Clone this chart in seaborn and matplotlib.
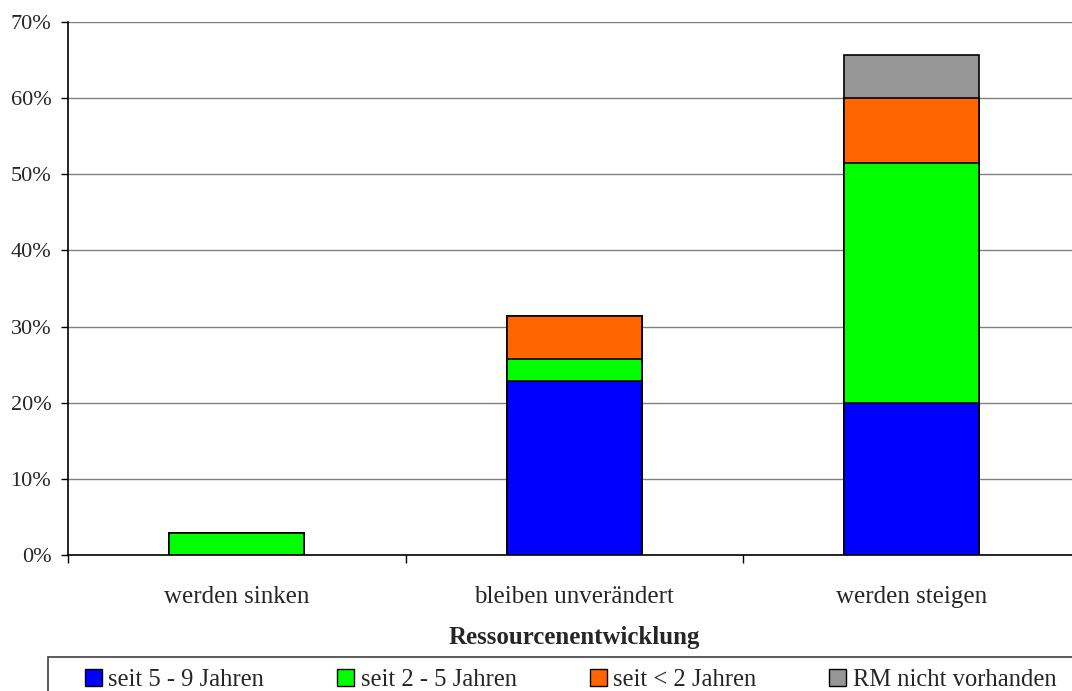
import matplotlib
matplotlib.use("Agg")
import matplotlib.pyplot as plt
import seaborn as sns
import pandas as pd
import numpy as np
from matplotlib.patches import Patch, Rectangle

# Anteile in Prozent je Kategorie der Ressourcenentwicklung
categories = ["werden sinken", "bleiben unverändert", "werden steigen"]
seit_5_9 = [0.0, 22.86, 20.0]
seit_2_5 = [2.86, 2.86, 31.43]
seit_unter_2 = [0.0, 5.71, 8.57]
rm_nicht = [0.0, 0.0, 5.71]

series_names = ["seit 5 - 9 Jahren", "seit 2 - 5 Jahren", "seit < 2 Jahren", "RM nicht vorhanden"]
series_values = [seit_5_9, seit_2_5, seit_unter_2, rm_nicht]
colors = ["#0000FF", "#00FF00", "#FF6600", "#969696"]

sns.set_style("white")
plt.rcParams["font.family"] = ["Liberation Serif", "DejaVu Serif"]

W, H = 1072, 691
fig = plt.figure(figsize=(W / 100, H / 100), dpi=100)
ax = fig.add_axes([68 / W, 1 - 555 / H, (1080.5 - 68) / W, (555 - 22) / H])

# Kumulierte Summen, von der höchsten Stufe abwärts übereinander gezeichnet
cum = np.cumsum(np.array(series_values), axis=0)
for i in range(len(series_names) - 1, -1, -1):
    df = pd.DataFrame({"Kategorie": categories, "Wert": cum[i]})
    sns.barplot(data=df, x="Kategorie", y="Wert", color=colors[i], width=0.4,
                edgecolor="black", linewidth=1.2, saturation=1, ax=ax, zorder=3)

ax.set_xlim(-0.5, 2.5)
ax.set_ylim(0, 70)
ax.set_yticks(np.arange(0, 71, 10))
ax.set_yticklabels([f"{v}%" for v in range(0, 71, 10)], fontsize=16)
ax.yaxis.grid(True, color="#808080", linewidth=1)
ax.set_axisbelow(True)

ax.set_xticks(range(3))
ax.set_xticklabels(categories, fontsize=18)
ax.tick_params(axis="x", which="major", bottom=False, length=0, pad=22)
ax.set_xticks([-0.5, 0.5, 1.5, 2.5], minor=True)
ax.tick_params(axis="x", which="minor", bottom=True, length=5.5, width=1,
               color="black", direction="out")
ax.tick_params(axis="y", left=True, length=5, width=1, color="black",
               direction="out", pad=7)

ax.set_xlabel("Ressourcenentwicklung", fontsize=17.9, fontweight="bold", labelpad=13.5)
ax.set_ylabel("")

for side in ["top", "right"]:
    ax.spines[side].set_visible(False)
for side in ["left", "bottom"]:
    ax.spines[side].set_color("black")
    ax.spines[side].set_linewidth(1.2)

# Legendenrahmen
fig.patches.append(Rectangle((48 / W, -0.1), 1.2, (1 - 657 / H) + 0.1,
                             transform=fig.transFigure, fill=False,
                             edgecolor="#404040", linewidth=1.2))

handles = [Patch(facecolor=c, edgecolor="black", linewidth=1) for c in colors]
leg = fig.legend(handles, series_names, loc="upper left",
                 bbox_to_anchor=(85 / W, 1 - 669 / H), ncol=4,
                 fontsize=17.7, frameon=False,
                 handlelength=0.7, handleheight=0.7, handletextpad=0.25,
                 columnspacing=2.97, borderpad=0, borderaxespad=0)

fig.savefig("out.png", dpi=100)
